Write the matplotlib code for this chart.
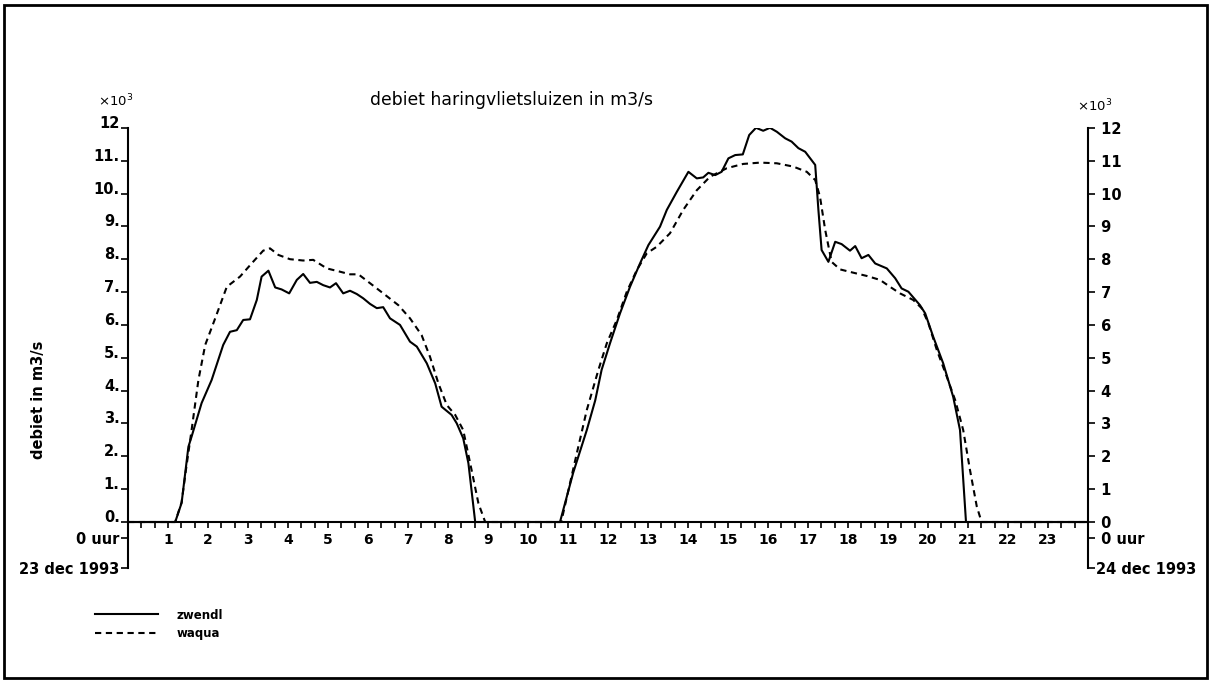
import matplotlib
matplotlib.use('Agg')
import matplotlib.pyplot as plt
from matplotlib.patches import Rectangle
from matplotlib.ticker import MultipleLocator

# zwendl (solid) - hours after 0 uur 23 dec 1993, debiet in 10^3 m3/s
zwendl_hours = [0, 1.18, 1.34, 1.51, 1.59, 1.84, 2.09, 2.38, 2.55, 2.72, 2.88, 3.05, 3.22, 3.34, 3.51,
                3.68, 3.84, 4.03, 4.22, 4.38, 4.55, 4.72, 4.88, 5.05, 5.2, 5.38, 5.55, 5.72, 5.88, 6.05,
                6.22, 6.38, 6.55, 6.8, 7.05, 7.22, 7.47, 7.68, 7.84, 8.09, 8.22, 8.38, 8.51, 8.68,
                10.8, 11.13, 11.47, 11.68, 11.84, 12.05, 12.3, 12.55, 12.8, 13.01, 13.3, 13.47, 13.72,
                14.01, 14.22, 14.38, 14.51, 14.68, 14.84, 15.01, 15.18, 15.37, 15.53, 15.7, 15.88,
                16.05, 16.22, 16.43, 16.59, 16.76, 16.93, 17.18, 17.26, 17.34, 17.51, 17.68, 17.84,
                18.05, 18.18, 18.34, 18.51, 18.68, 18.97, 19.18, 19.34, 19.51, 19.8, 19.93, 20.13,
                20.38, 20.63, 20.8, 20.95, 24]
zwendl_values = [0, 0, 0.58, 2.29, 2.6, 3.62, 4.32, 5.39, 5.79, 5.84, 6.15, 6.17, 6.76, 7.47, 7.65,
                 7.14, 7.08, 6.96, 7.37, 7.55, 7.28, 7.31, 7.21, 7.14, 7.27, 6.96, 7.04, 6.94, 6.81, 6.64,
                 6.51, 6.54, 6.2, 6.0, 5.49, 5.34, 4.83, 4.22, 3.51, 3.26, 3.0, 2.55, 1.79, 0,
                 0, 1.5, 2.8, 3.7, 4.63, 5.44, 6.35, 7.16, 7.87, 8.43, 8.99, 9.5, 10.05,
                 10.66, 10.46, 10.49, 10.63, 10.56, 10.66, 11.07, 11.17, 11.19, 11.78, 12.0, 11.91,
                 12.0, 11.88, 11.68, 11.58, 11.38, 11.27, 10.87, 9.5, 8.28, 7.92, 8.53, 8.46,
                 8.26, 8.4, 8.03, 8.13, 7.87, 7.72, 7.42, 7.11, 7.01, 6.6, 6.35, 5.64,
                 4.83, 3.81, 2.8, 0, 0]

# waqua (dashed)
waqua_hours = [0, 1.18, 1.34, 1.45, 1.59, 1.76, 1.93, 2.18, 2.47, 2.8, 3.09, 3.38, 3.55, 3.76, 4.05,
               4.38, 4.63, 4.97, 5.3, 5.55, 5.76, 6.05, 6.38, 6.76, 7.05, 7.34, 7.55, 7.76, 7.97,
               8.18, 8.38, 8.59, 8.76, 8.93, 10.83, 11.22, 11.47, 11.76, 11.97, 12.22, 12.47, 12.72,
               12.97, 13.22, 13.55, 13.88, 14.22, 14.55, 14.97, 15.38, 15.8, 16.22, 16.63, 16.97,
               17.18, 17.3, 17.43, 17.59, 17.8, 18.13, 18.47, 18.8, 19.05, 19.3, 19.63, 19.84,
               20.01, 20.22, 20.47, 20.68, 20.88, 21.05, 21.22, 21.34, 24]
waqua_values = [0, 0, 0.6, 1.6, 2.8, 4.32, 5.39, 6.2, 7.16, 7.47, 7.87, 8.26, 8.33, 8.13, 8.0,
                7.96, 7.98, 7.72, 7.62, 7.54, 7.54, 7.27, 6.96, 6.6, 6.2, 5.69, 5.03, 4.22, 3.56,
                3.26, 2.8, 1.58, 0.57, 0, 0, 2.09, 3.41, 4.63, 5.44, 6.15, 7.01, 7.67,
                8.18, 8.38, 8.79, 9.5, 10.1, 10.51, 10.77, 10.9, 10.94, 10.92, 10.82, 10.66,
                10.41, 9.9, 8.89, 7.92, 7.69, 7.59, 7.49, 7.37, 7.16, 6.96, 6.76, 6.51,
                6.05, 5.24, 4.42, 3.71, 2.8, 1.58, 0.47, 0, 0]

hour_labels = [str(h) for h in range(1, 24)]
left_ticks = [-1.4, -0.5] + list(range(0, 13))
left_labels = ['23 dec 1993', '0 uur'] + [f'{v}.' for v in range(0, 12)] + ['12']
right_labels = ['24 dec 1993', ' 0 uur'] + [f' {v}' for v in range(0, 13)]

title = 'debiet haringvlietsluizen in m3/s'
ylabel = 'debiet in m3/s'

W, H = 1211, 683
fig = plt.figure(figsize=(W / 100, H / 100), dpi=100)

# axes: x 0..24 hours -> px 128..1088, y -1.4..12 -> px 568..128
ax = fig.add_axes([128 / W, 1 - 568 / H, (1088 - 128) / W, (568 - 127.8) / H])
ax.plot(zwendl_hours, zwendl_values, color='black', lw=1.5, label='zwendl')
ax.plot(waqua_hours, waqua_values, color='black', lw=1.5, ls=(0, (3, 2.2)), label='waqua')

ax.set_xlim(0, 24)
ax.set_ylim(-1.4, 12)
ax.spines['top'].set_visible(False)
ax.spines['right'].set_visible(False)
ax.spines['bottom'].set_position(('data', 0))
for s in ax.spines.values():
    s.set_linewidth(1.5)

ax.set_xticks(range(1, 24))
ax.set_xticklabels(hour_labels, fontsize=10, fontweight='bold')
ax.xaxis.set_minor_locator(MultipleLocator(1 / 3))
ax.tick_params(axis='x', which='both', direction='out', length=4, width=1.2, pad=4)

ax.set_yticks(left_ticks)
ax.set_yticklabels(left_labels, fontsize=10.5, fontweight='bold')
ax.tick_params(axis='y', direction='out', length=5, width=1.2, pad=1)
for lbl in ax.get_yticklabels()[2:]:
    lbl.set_va('baseline')

ax2 = ax.twinx()
ax2.set_ylim(-1.4, 12)
for side in ['top', 'bottom', 'left']:
    ax2.spines[side].set_visible(False)
ax2.spines['right'].set_linewidth(1.5)
ax2.set_yticks(left_ticks)
ax2.set_yticklabels(right_labels, fontsize=10.5, fontweight='bold')
ax2.tick_params(axis='y', direction='out', length=5, width=1.2, pad=1)

fig.text(370 / W, 1 - 100 / H, title, fontsize=12.4, va='center', ha='left')
fig.text(38 / W, 1 - 400 / H, ylabel, fontsize=10.5, fontweight='bold', rotation=90,
         va='center', ha='center')
fig.text(98 / W, 1 - 101 / H, r'$\times10^3$', fontsize=9.5, fontweight='bold', va='center')
fig.text(1077 / W, 1 - 106 / H, r'$\times10^3$', fontsize=9.5, fontweight='bold', va='center')

leg = ax.legend(loc='upper left', bbox_to_anchor=(84 / W, 1 - 598 / H), bbox_transform=fig.transFigure,
                frameon=False, fontsize=8.5, handlelength=5.4, handletextpad=1.5, labelspacing=0.45)
for t in leg.get_texts():
    t.set_fontweight('bold')

# frame round the whole sheet
fig.patches.append(Rectangle((4 / W, 5 / H), 1203 / W, 673 / H, transform=fig.transFigure,
                             fill=False, edgecolor='black', lw=2))

fig.savefig('out.png', dpi=100)
